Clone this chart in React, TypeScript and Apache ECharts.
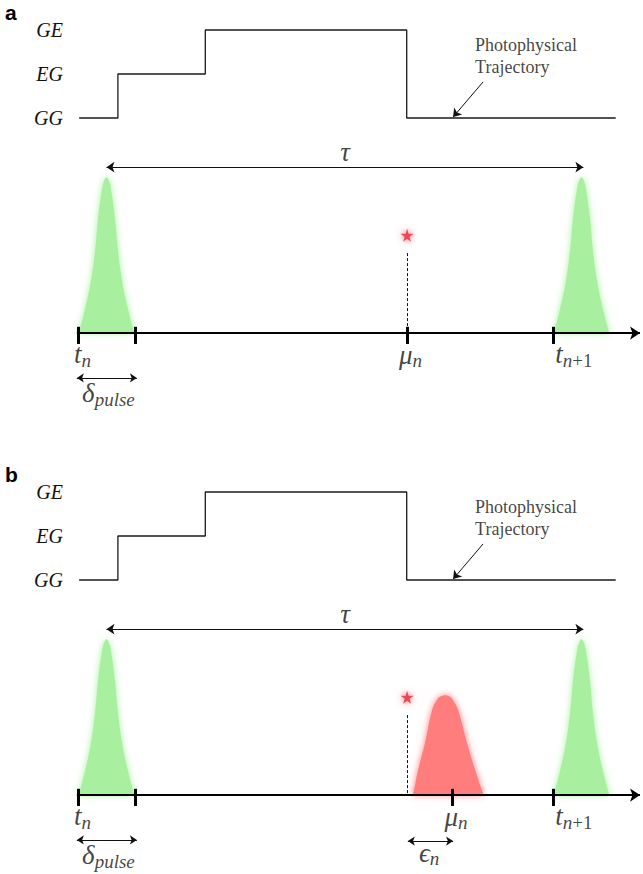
import React, { useEffect, useRef } from "react";
import * as echarts from "echarts";

// ---- data (time in ns, intensity in arbitrary units) ----
const stateNames = ["GG", "EG", "GE"];
const trajTimes = [0.03, 1.05, 3.35, 8.65, 14.15];
const trajLevels = [0, 1, 2, 0, 0];

const pulseWidth = 1.5; // δ_pulse
const pulseStarts = [0, 12.5]; // t_n, t_{n+1}
const pulseHalfOffsets = [0, 0.06, 0.12, 0.22, 0.3, 0.42, 0.57, 0.71, 0.75];
const pulseShape = [1, 0.98, 0.92, 0.74, 0.53, 0.32, 0.15, 0.02, 0];

const emissionTime = 8.66;
const emissionHeight = 0.628;
const detectionTimes = [8.66, 9.84]; // μ_n in panel a, panel b

const redTimes = [8.78, 8.82, 8.95, 9.13, 9.32, 9.47, 9.57, 9.66, 9.75, 9.84, 10.0, 10.24, 10.45, 10.66, 10.7];
const redValues = [0, 0.01, 0.16, 0.33, 0.545, 0.62, 0.635, 0.64, 0.635, 0.62, 0.545, 0.33, 0.16, 0.01, 0];

const panelLetters = ["a", "b"];

const X_MIN = -2;
const X_MAX = -2 + 641 / 38;
const PANEL_DY = 462;

const SERIF = "Liberation Serif";
const GREEN = "#a8f0a0";
const RED = "#ff7d7d";
const STAR = "path://M50,0 L61,35 L98,35 L68,57 L79,91 L50,70 L21,91 L32,57 L2,35 L39,35 Z";

function pulsePoints(start: number) {
  const c = start + pulseWidth / 2;
  const pts: number[][] = [];
  for (let i = pulseHalfOffsets.length - 1; i > 0; i--) pts.push([c - pulseHalfOffsets[i], pulseShape[i]]);
  for (let i = 0; i < pulseHalfOffsets.length; i++) pts.push([c + pulseHalfOffsets[i], pulseShape[i]]);
  return pts;
}

function seg(x1: number, y1: number, x2: number, y2: number, style: any, symbols: string[] = ["none", "none"], size = 8) {
  return [
    { coord: [x1, y1], symbol: symbols[0], symbolSize: size, lineStyle: style },
    { coord: [x2, y2], symbol: symbols[1], symbolSize: size },
  ];
}

const rich = {
  m: { fontFamily: SERIF, fontStyle: "italic", fontSize: 27, lineHeight: 27, verticalAlign: "top", color: "#111" },
  s: { fontFamily: SERIF, fontStyle: "italic", fontSize: 19, lineHeight: 19, padding: [10, 0, 0, 0], verticalAlign: "top", color: "#111" },
  u: { fontFamily: SERIF, fontSize: 19, lineHeight: 19, padding: [10, 0, 0, 0], verticalAlign: "top", color: "#111" },
};

function panelSeries(p: number) {
  const ti = 2 * p;
  const gi = 2 * p + 1;
  const mu = detectionTimes[p];
  const series: any[] = [];

  series.push({
    type: "line",
    xAxisIndex: ti,
    yAxisIndex: ti,
    data: trajTimes.map((t, i) => [t, trajLevels[i]]),
    step: "end",
    symbol: "none",
    clip: false,
    lineStyle: { color: "#1a1a1a", width: 1.3 },
    markLine: {
      silent: true,
      label: { show: false },
      lineStyle: { color: "#111", width: 1, type: "solid" },
      data: [seg(10.66, 0.82, 9.87, 0.02, { color: "#111", width: 1 }, ["none", "arrow"], 8)],
    },
    z: 3,
  });

  series.push({
    type: "scatter",
    xAxisIndex: ti,
    yAxisIndex: ti,
    symbolSize: 0,
    data: [[10.45, 1.41]],
    label: {
      show: true,
      position: "right",
      distance: 0,
      formatter: "Photophysical\nTrajectory",
      fontFamily: SERIF,
      fontSize: 18,
      lineHeight: 22,
      color: "#111",
    },
  });

  pulseStarts.forEach((s) => {
    series.push({
      type: "line",
      xAxisIndex: gi,
      yAxisIndex: gi,
      data: pulsePoints(s),
      smooth: 0.4,
      symbol: "none",
      clip: false,
      lineStyle: { width: 0, color: GREEN },
      areaStyle: { color: GREEN, opacity: 1, shadowBlur: 7, shadowColor: GREEN },
      z: 1,
    });
  });

  if (p === 1) {
    series.push({
      type: "line",
      xAxisIndex: gi,
      yAxisIndex: gi,
      data: redTimes.map((t, i) => [t, redValues[i]]),
      smooth: 0.4,
      symbol: "none",
      clip: false,
      lineStyle: { width: 0, color: RED },
      areaStyle: { color: RED, opacity: 1, shadowBlur: 7, shadowColor: RED },
      z: 1,
    });
  }

  const ticks = [pulseStarts[0], pulseStarts[0] + pulseWidth, mu, pulseStarts[1]];
  const mlData: any[] = [
    seg(-0.03, 0, 14.79, 0, { color: "#000", width: 2 }, ["none", "arrow"], 10),
    ...ticks.map((t) => seg(t, 0.04, t, -0.07, { color: "#000", width: 3 })),
    seg(emissionTime, 0.513, emissionTime, p === 0 ? 0.04 : 0, { color: "#111", width: 1, type: [3, 2] }),
    seg(pulseStarts[0] + pulseWidth / 2, 1.064, 13.3, 1.064, { color: "#111", width: 1 }, ["arrow", "arrow"], 8),
    seg(-0.03, -0.288, 1.55, -0.288, { color: "#111", width: 1 }, ["arrow", "arrow"], 7),
  ];
  if (p === 1) {
    mlData.push(seg(8.68, -0.295, 9.87, -0.295, { color: "#111", width: 1 }, ["arrow", "arrow"], 7));
  }

  series.push({
    type: "scatter",
    xAxisIndex: gi,
    yAxisIndex: gi,
    symbol: STAR,
    symbolSize: 13,
    data: [[emissionTime, emissionHeight]],
    itemStyle: { color: "#ec3a48", opacity: 0.9, shadowBlur: 6, shadowColor: "rgba(236,58,72,0.9)" },
    markLine: {
      silent: true,
      label: { show: false },
      lineStyle: { color: "#111", width: 1, type: "solid" },
      data: mlData,
    },
    z: 5,
  });

  const labels: any[] = [
    { value: [0.12, -0.135], t: "{m|t}{s|n}" },
    { value: [p === 0 ? 8.75 : 9.95, -0.14], t: "{m|μ}{s|n}" },
    { value: [13.05, -0.135], t: "{m|t}{s|n}{u|+1}" },
    { value: [0.8, -0.385], t: "{m|δ}{s|pulse}" },
    { value: [7.03, 1.16], t: "{m|τ}" },
  ];
  if (p === 1) labels.push({ value: [9.24, -0.37], t: "{m|ϵ}{s|n}" });

  series.push({
    type: "scatter",
    xAxisIndex: gi,
    yAxisIndex: gi,
    symbolSize: 0,
    data: labels.map((l) => ({
      value: l.value,
      label: { formatter: l.t },
    })),
    label: { show: true, position: "inside", align: "center", verticalAlign: "middle", fontFamily: SERIF, rich },
    z: 6,
  });

  return series;
}

export default function App() {
  const ref = useRef<HTMLDivElement>(null);
  useEffect(() => {
    if (!ref.current) return;
    const chart = echarts.init(ref.current, undefined, { renderer: "svg", width: 643, height: 874 });
    const grids: any[] = [];
    const xAxes: any[] = [];
    const yAxes: any[] = [];
    for (let p = 0; p < 2; p++) {
      const o = p * PANEL_DY;
      grids.push({ left: 2, width: 641, top: o + 30, height: 88 });
      grids.push({ left: 2, width: 641, top: o + 146, height: 265 });
    }
    for (let i = 0; i < 4; i++) {
      xAxes.push({ type: "value", gridIndex: i, min: X_MIN, max: X_MAX, show: false });
      if (i % 2 === 0) {
        yAxes.push({
          type: "value",
          gridIndex: i,
          min: 0,
          max: 2,
          interval: 1,
          offset: -61,
          axisLine: { show: false },
          axisTick: { show: false },
          splitLine: { show: false },
          axisLabel: {
            margin: 0,
            formatter: (v: number) => stateNames[v] ?? "",
            fontFamily: SERIF,
            fontStyle: "italic",
            fontSize: 20,
            color: "#111",
          },
        });
      } else {
        yAxes.push({ type: "value", gridIndex: i, min: -0.5, max: 1.2, show: false });
      }
    }
    const option = {
      animation: false,
      backgroundColor: "#ffffff",
      textStyle: { fontFamily: SERIF },
      title: panelLetters.map((l, p) => ({
        text: l,
        left: 5,
        top: 2 + p * PANEL_DY,
        padding: 0,
        textStyle: { fontFamily: "Liberation Sans", fontWeight: "bold", fontSize: 21, color: "#000" },
      })),
      grid: grids,
      xAxis: xAxes,
      yAxis: yAxes,
      series: [...panelSeries(0), ...panelSeries(1)],
    };
    chart.setOption(option as any);
    return () => chart.dispose();
  }, []);
  return <div ref={ref} style={{ position: "absolute", left: 0, top: 0, width: 643, height: 874 }} />;
}
